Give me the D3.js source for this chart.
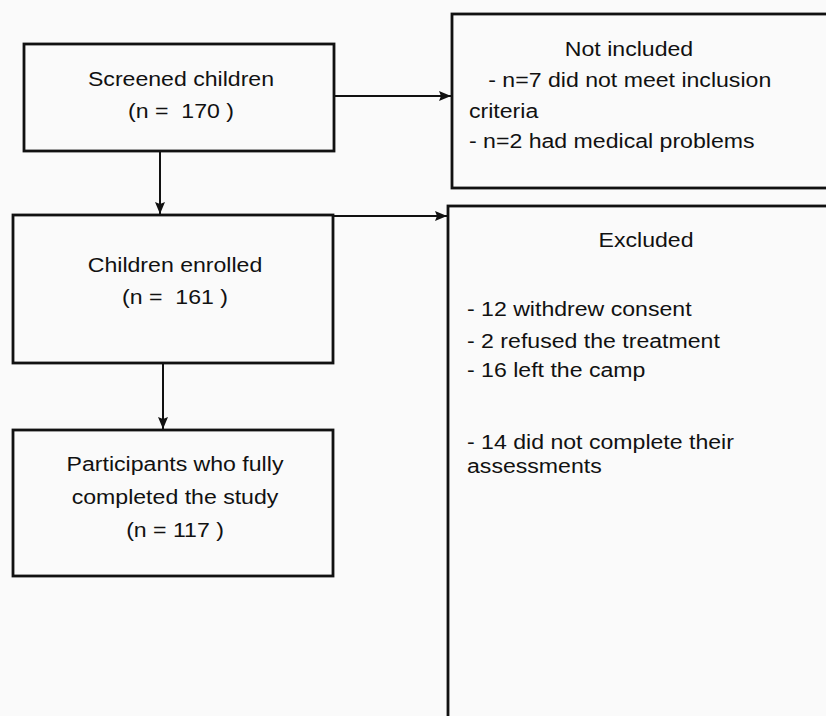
<!DOCTYPE html>
<html>
<head>
<meta charset="utf-8">
<script src="https://cdn.jsdelivr.net/npm/d3@7"></script>
<style>
  html, body { margin: 0; padding: 0; background: #fafafa; }
  svg { display: block; }
  text { font-family: "Liberation Sans", Arial, sans-serif; fill: #111; white-space: pre; }
</style>
</head>
<body>
<svg id="chart" width="826" height="716"></svg>
<script>
// counts shown in the flow
var screened = 170, enrolled = 161, completed = 117;

// main column labels
var mainTitles = ["Screened children", "Children enrolled", "Participants who fully|completed the study"];
var mainCounts = [screened, enrolled, completed];
var countFormats = ["(n =  %d )", "(n =  %d )", "(n = %d )"];

// side boxes
var notIncludedLines = ["Not included", "   - n=7 did not meet inclusion", "criteria", "- n=2 had medical problems"];
var excludedLines = ["Excluded", "- 12 withdrew consent", "- 2 refused the treatment", "- 16 left the camp", "- 14 did not complete their", "assessments"];

// layout (pixels)
var mainBoxes = [
  {x: 24, y: 44, w: 310, h: 107, base: [86, 118]},
  {x: 13, y: 215, w: 320, h: 148, base: [272, 304]},
  {x: 13, y: 430, w: 320, h: 146, base: [471, 504, 537]}
];
var sideBoxes = [
  {x: 452, y: 14, w: 400, h: 174},
  {x: 448, y: 206, w: 400, h: 530}
];
var notIncPos = [{x: 629, y: 56, a: "middle"}, {x: 469, y: 87, a: "start"}, {x: 469, y: 118, a: "start"}, {x: 469, y: 148, a: "start"}];
var exclPos = [{x: 646, y: 247, a: "middle"}, {x: 467, y: 316, a: "start"}, {x: 467, y: 348, a: "start"}, {x: 467, y: 377, a: "start"}, {x: 467, y: 449, a: "start"}, {x: 467, y: 473, a: "start"}];

var fontSize = 21, stretch = 1.1;

var svg = d3.select("#chart");

svg.append("defs").append("marker")
    .attr("id", "head")
    .attr("viewBox", "0 0 12 10")
    .attr("refX", 12).attr("refY", 5)
    .attr("markerWidth", 12).attr("markerHeight", 10)
    .attr("markerUnits", "userSpaceOnUse")
    .attr("orient", "auto")
  .append("path")
    .attr("d", "M0,0L12,5L0,10L2,5Z")
    .attr("fill", "#111");

svg.append("rect").attr("width", 826).attr("height", 716).attr("fill", "#fafafa");

function drawBox(b) {
  svg.append("rect")
      .attr("x", b.x).attr("y", b.y).attr("width", b.w).attr("height", b.h)
      .attr("fill", "#fafafa").attr("stroke", "#111").attr("stroke-width", 2.8);
}

function drawText(str, x, y, anchor) {
  svg.append("g")
      .attr("transform", "translate(" + x + "," + y + ") scale(" + stretch + ",1)")
    .append("text")
      .attr("text-anchor", anchor)
      .attr("font-size", fontSize)
      .text(str);
}

function arrow(x1, y1, x2, y2) {
  svg.append("line")
      .attr("x1", x1).attr("y1", y1).attr("x2", x2).attr("y2", y2)
      .attr("stroke", "#111").attr("stroke-width", 2)
      .attr("marker-end", "url(#head)");
}

mainBoxes.forEach(drawBox);
sideBoxes.forEach(drawBox);

mainBoxes.forEach(function(b, i) {
  var lines = mainTitles[i].split("|").concat([countFormats[i].replace("%d", mainCounts[i])]);
  var cx = b.x + b.w / 2 + 2;
  lines.forEach(function(l, j) { drawText(l, cx, b.base[j], "middle"); });
});

notIncludedLines.forEach(function(l, i) { drawText(l, notIncPos[i].x, notIncPos[i].y, notIncPos[i].a); });
excludedLines.forEach(function(l, i) { drawText(l, exclPos[i].x, exclPos[i].y, exclPos[i].a); });

// arrows
arrow(334, 96, 451, 96);
arrow(160, 151, 160, 214);
arrow(333, 216, 447, 216);
arrow(163, 363, 163, 429);
</script>
</body>
</html>
